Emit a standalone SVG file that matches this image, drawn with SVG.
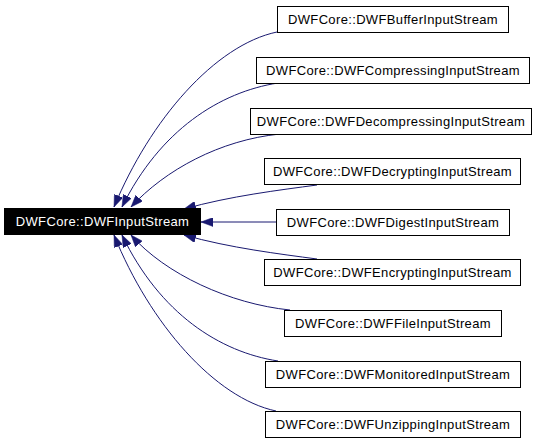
<svg xmlns="http://www.w3.org/2000/svg" width="541" height="443" viewBox="0 0 541 443">
<style>
.bg{fill:#ffffff}
.box{fill:#ffffff;stroke:#000000;stroke-width:1}
.main{fill:#000000;stroke:#000000;stroke-width:1}
.lbl{font-family:"Liberation Sans",Arial,sans-serif;font-size:13px;letter-spacing:0.35px;text-anchor:middle;fill:#000000}
.lblw{fill:#ffffff}
.edge{fill:none;stroke:#191970;stroke-width:1;marker-end:url(#arr)}
</style>
<defs>
<marker id="arr" markerUnits="userSpaceOnUse" markerWidth="12" markerHeight="9" viewBox="0 0 12 9" refX="12" refY="4.5" orient="auto">
<path d="M0,0 L12,4.5 L0,9 z" fill="#191970" stroke="#191970" stroke-width="0.5"/>
</marker>
</defs>
<rect class="bg" x="0" y="0" width="541" height="443"/>
<g id="connectors">
<path class="edge" d="M277,32 C215,45 150,120 114,207"/>
<path class="edge" d="M278,83 C220,92 160,130 122,207"/>
<path class="edge" d="M280,134 C220,140 165,170 131,207"/>
<path class="edge" d="M317,185 C280,190 230,196 184,209"/>
<path class="edge" d="M276,222 L201,222"/>
<path class="edge" d="M317,259 C280,254 230,248 184,235"/>
<path class="edge" d="M290,310 C230,304 165,274 131,235"/>
<path class="edge" d="M278,361 C220,352 160,314 122,235"/>
<path class="edge" d="M276,411 C215,398 150,324 114,235"/>
</g>
<g id="n_input">
<rect class="main" x="4.5" y="208.5" width="196" height="26"/>
<text class="lbl lblw" x="102.5" y="226">DWFCore::DWFInputStream</text>
</g>
<g id="n_buffer">
<rect class="box" x="277.5" y="6.5" width="231" height="26"/>
<text class="lbl" x="393" y="24">DWFCore::DWFBufferInputStream</text>
</g>
<g id="n_compressing">
<rect class="box" x="256.5" y="57.5" width="273" height="26"/>
<text class="lbl" x="393" y="75">DWFCore::DWFCompressingInputStream</text>
</g>
<g id="n_decompressing">
<rect class="box" x="250.5" y="108.5" width="281" height="26"/>
<text class="lbl" x="391" y="126">DWFCore::DWFDecompressingInputStream</text>
</g>
<g id="n_decrypting">
<rect class="box" x="264.5" y="158.5" width="256" height="26"/>
<text class="lbl" x="392.5" y="176">DWFCore::DWFDecryptingInputStream</text>
</g>
<g id="n_digest">
<rect class="box" x="276.5" y="209.5" width="233" height="26"/>
<text class="lbl" x="393" y="227">DWFCore::DWFDigestInputStream</text>
</g>
<g id="n_encrypting">
<rect class="box" x="264.5" y="259.5" width="256" height="26"/>
<text class="lbl" x="392.5" y="277">DWFCore::DWFEncryptingInputStream</text>
</g>
<g id="n_file">
<rect class="box" x="284.5" y="310.5" width="217" height="26"/>
<text class="lbl" x="393" y="328">DWFCore::DWFFileInputStream</text>
</g>
<g id="n_monitored">
<rect class="box" x="265.5" y="361.5" width="255" height="26"/>
<text class="lbl" x="393" y="379">DWFCore::DWFMonitoredInputStream</text>
</g>
<g id="n_unzipping">
<rect class="box" x="265.5" y="411.5" width="255" height="26"/>
<text class="lbl" x="393" y="429">DWFCore::DWFUnzippingInputStream</text>
</g>
</svg>
